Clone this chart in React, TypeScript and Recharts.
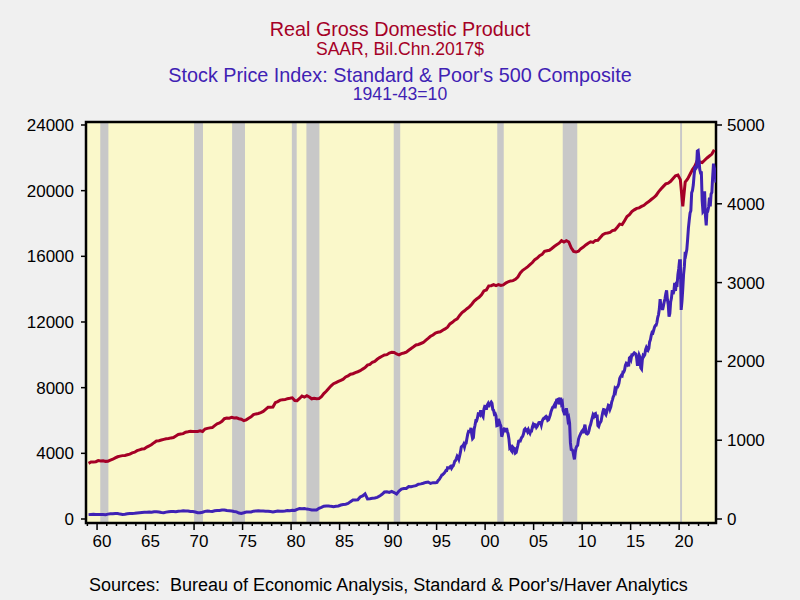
import { LineChart, Line, XAxis, YAxis, ReferenceArea } from "recharts";

document.body.style.margin = "0";

// Real GDP, quarterly, SAAR, Bil.Chn.2017$ (1959Q1 - 2023Q3)
const gdpStartYear = 1959;
const gdp = [
  3390, 3470, 3470, 3490, // 1959
  3560, 3540, 3550, 3510, // 1960
  3520, 3580, 3640, 3720, // 1961
  3790, 3830, 3860, 3870, // 1962
  3910, 3950, 4030, 4070, // 1963
  4160, 4210, 4260, 4280, // 1964
  4380, 4450, 4540, 4650, // 1965
  4750, 4770, 4810, 4850, // 1966
  4890, 4900, 4940, 4960, // 1967
  5060, 5150, 5180, 5200, // 1968
  5290, 5310, 5340, 5330, // 1969
  5330, 5330, 5370, 5330, // 1970
  5480, 5520, 5550, 5570, // 1971
  5690, 5800, 5850, 5950, // 1972
  6110, 6150, 6140, 6190, // 1973
  6150, 6160, 6110, 6080, // 1974
  5990, 6040, 6140, 6220, // 1975
  6360, 6400, 6430, 6480, // 1976
  6550, 6680, 6800, 6800, // 1977
  6820, 7080, 7150, 7240, // 1978
  7260, 7270, 7330, 7350, // 1979
  7380, 7220, 7210, 7340, // 1980
  7490, 7430, 7510, 7430, // 1981
  7320, 7350, 7320, 7330, // 1982
  7450, 7640, 7780, 7950, // 1983
  8110, 8240, 8310, 8380, // 1984
  8450, 8520, 8650, 8720, // 1985
  8820, 8850, 8920, 8970, // 1986
  9030, 9130, 9220, 9370, // 1987
  9420, 9550, 9600, 9730, // 1988
  9830, 9910, 9990, 10010, // 1989
  10110, 10150, 10140, 10050, // 1990
  10000, 10070, 10110, 10160, // 1991
  10280, 10390, 10490, 10600, // 1992
  10630, 10690, 10750, 10880, // 1993
  11000, 11130, 11210, 11330, // 1994
  11370, 11400, 11500, 11580, // 1995
  11680, 11880, 11980, 12110, // 1996
  12190, 12400, 12570, 12680, // 1997
  12810, 12920, 13080, 13270, // 1998
  13400, 13500, 13660, 13890, // 1999
  13950, 14200, 14210, 14280, // 2000
  14220, 14280, 14230, 14260, // 2001
  14370, 14450, 14500, 14520, // 2002
  14600, 14740, 14990, 15150, // 2003
  15250, 15360, 15490, 15620, // 2004
  15800, 15890, 16040, 16120, // 2005
  16300, 16340, 16370, 16480, // 2006
  16600, 16700, 16800, 16950, // 2007
  16870, 16950, 16870, 16520, // 2008
  16300, 16260, 16310, 16470, // 2009
  16560, 16690, 16800, 16880, // 2010
  16850, 16970, 16980, 17150, // 2011
  17320, 17400, 17420, 17460, // 2012
  17570, 17600, 17770, 17960, // 2013
  17930, 18170, 18420, 18530, // 2014
  18720, 18830, 18920, 18950, // 2015
  19040, 19110, 19240, 19330, // 2016
  19460, 19570, 19710, 19930, // 2017
  20100, 20260, 20410, 20460, // 2018
  20570, 20740, 20910, 20950, // 2019
  20670, 19040, 20520, 20720, // 2020
  21000, 21290, 21500, 21850, // 2021
  21740, 21710, 21850, 21990, // 2022
  22110, 22230, 22490, // 2023
];

// S&P 500, 1941-43=10: quarterly averages 1959-1994
const spQuarterlyStartYear = 1959;
const spQuarterly = [
  55.5, 57.5, 58.7, 57.8, 56.3, 56.1, 55.7, 55.3, 62.0, 66.0, 66.8, 70.3,
  69.9, 62.2, 57.8, 59.6, 65.6, 69.7, 71.0, 73.3, 77.5, 80.3, 82.9, 84.8,
  86.6, 87.4, 86.9, 91.8, 91.6, 88.1, 81.4, 79.8, 87.1, 91.7, 94.4, 94.5,
  91.6, 98.0, 99.9, 105.2, 100.9, 101.7, 94.5, 94.3, 88.7, 79.2, 78.7, 86.2,
  96.7, 101.4, 98.5, 96.4, 105.4, 108.2, 109.2, 114.1, 115.0, 107.4, 105.1, 102.2,
  95.7, 90.6, 75.7, 69.4, 78.8, 89.1, 87.6, 89.1, 99.5, 101.6, 104.3, 102.6,
  101.8, 99.0, 98.1, 93.9, 89.4, 95.9, 101.7, 97.3, 99.3, 101.2, 106.2, 105.3,
  110.3, 108.4, 123.3, 133.1, 131.5, 132.8, 125.7, 122.2, 114.2, 114.1, 113.8, 136.7,
  147.7, 162.7, 165.5, 165.8, 160.4, 155.8, 160.5, 165.2, 177.3, 184.8, 188.3, 197.0,
  220.0, 240.6, 241.2, 243.7, 279.3, 293.3, 319.4, 255.4, 258.1, 263.1, 266.9, 275.0,
  290.7, 313.3, 341.9, 345.4, 336.3, 349.6, 335.4, 317.1, 353.4, 378.7, 385.6, 387.1,
  412.0, 410.2, 417.2, 423.6, 442.4, 445.5, 453.5, 464.2, 469.5, 451.0, 460.9, 460.0,
];

// S&P 500: monthly averages 1995 - Oct 2023
const spMonthlyStartYear = 1995;
const spMonthly = [
  465, 482, 493, 507, 523, 540, 558, 562, 573, 583, 596, 614, // 1995
  614, 649, 647, 647, 661, 668, 644, 662, 674, 701, 735, 743, // 1996
  767, 798, 784, 758, 801, 848, 913, 925, 928, 948, 915, 955, // 1997
  963, 1023, 1077, 1112, 1108, 1109, 1157, 1074, 1020, 1032, 1144, 1190, // 1998
  1248, 1246, 1282, 1334, 1332, 1322, 1381, 1327, 1318, 1300, 1392, 1429, // 1999
  1425, 1388, 1443, 1461, 1419, 1462, 1473, 1485, 1468, 1390, 1379, 1330, // 2000
  1336, 1305, 1185, 1189, 1271, 1238, 1205, 1179, 1044, 1077, 1129, 1144, // 2001
  1140, 1101, 1154, 1112, 1079, 1014, 903, 912, 868, 855, 910, 899, // 2002
  895, 838, 846, 891, 936, 988, 993, 990, 1019, 1039, 1050, 1081, // 2003
  1132, 1144, 1124, 1130, 1107, 1132, 1106, 1088, 1118, 1118, 1169, 1199, // 2004
  1182, 1199, 1195, 1164, 1178, 1202, 1222, 1224, 1226, 1192, 1238, 1262, // 2005
  1278, 1277, 1293, 1302, 1290, 1253, 1260, 1287, 1317, 1363, 1389, 1416, // 2006
  1424, 1445, 1407, 1463, 1511, 1515, 1520, 1455, 1497, 1540, 1463, 1479, // 2007
  1378, 1354, 1317, 1371, 1404, 1341, 1257, 1281, 1217, 969, 883, 878, // 2008
  866, 806, 757, 849, 902, 926, 935, 1010, 1045, 1068, 1088, 1111, // 2009
  1124, 1089, 1152, 1197, 1125, 1083, 1079, 1088, 1122, 1172, 1199, 1242, // 2010
  1282, 1321, 1304, 1332, 1338, 1287, 1325, 1185, 1174, 1207, 1226, 1244, // 2011
  1300, 1352, 1389, 1386, 1341, 1324, 1359, 1404, 1443, 1437, 1394, 1422, // 2012
  1480, 1512, 1551, 1570, 1640, 1619, 1669, 1671, 1688, 1720, 1783, 1807, // 2013
  1823, 1817, 1864, 1864, 1890, 1948, 1973, 1961, 1993, 1937, 2045, 2055, // 2014
  2029, 2082, 2080, 2095, 2108, 2100, 2095, 2040, 1945, 2024, 2080, 2054, // 2015
  1919, 1904, 2022, 2076, 2066, 2084, 2149, 2177, 2158, 2143, 2165, 2247, // 2016
  2275, 2330, 2366, 2360, 2395, 2434, 2454, 2457, 2493, 2557, 2594, 2664, // 2017
  2790, 2705, 2703, 2654, 2701, 2754, 2794, 2858, 2902, 2785, 2723, 2567, // 2018
  2607, 2755, 2804, 2904, 2855, 2890, 2996, 2897, 2983, 2977, 3104, 3177, // 2019
  3278, 3278, 2653, 2762, 2920, 3105, 3208, 3391, 3366, 3418, 3549, 3695, // 2020
  3793, 3883, 3911, 4141, 4168, 4238, 4364, 4454, 4446, 4461, 4668, 4675, // 2021
  4574, 4436, 4391, 4392, 4040, 3899, 3912, 4158, 3851, 3726, 3917, 3913, // 2022
  3960, 4079, 3968, 4122, 4146, 4346, 4509, 4458, 4409, 4270, // 2023
];

// NBER recessions (start, end) in decimal years
const recessions = [
  [1960.33, 1961.17],
  [1970.0, 1970.92],
  [1973.92, 1975.25],
  [1980.08, 1980.58],
  [1981.58, 1982.92],
  [1990.58, 1991.25],
  [2001.25, 2001.92],
  [2008.0, 2009.5],
  [2020.1, 2020.3],
];

const xDomain = [1958.86, 2023.8];
const leftDomain = [-244, 24182];
const rightDomain = [-50.8, 5038];
const leftTicks = [0, 4000, 8000, 12000, 16000, 20000, 24000];
const rightTicks = [0, 1000, 2000, 3000, 4000, 5000];
const labelYears = [1960, 1965, 1970, 1975, 1980, 1985, 1990, 1995, 2000, 2005, 2010, 2015, 2020];

const RED = "#A50026";
const BLUE = "#3F22B4";
const FONT = "'Liberation Sans', Arial, sans-serif";

const gdpData = gdp.map((v, i) => ({
  t: gdpStartYear + Math.floor(i / 4) + ((i % 4) + 0.5) / 4,
  v,
}));
const spData = [
  ...spQuarterly.map((v, i) => ({
    t: spQuarterlyStartYear + Math.floor(i / 4) + ((i % 4) + 0.5) / 4,
    v,
  })),
  ...spMonthly.map((v, i) => ({
    t: spMonthlyStartYear + Math.floor(i / 12) + ((i % 12) + 0.5) / 12,
    v,
  })),
];

// year tick marks at each year boundary, labels centred in the year
const yearMarks = Array.from({ length: 65 }, (_, i) => 1959 + i);
const xTicks = [...yearMarks, ...labelYears.map((y) => y + 0.5)].sort((a, b) => a - b);

function YearTick(props: any) {
  const { x, y, payload } = props;
  const v = payload.value;
  if (Number.isInteger(v)) {
    const len = v % 5 === 0 ? 7 : 3;
    return <line x1={x} x2={x} y1={y} y2={y + len} stroke="#000" strokeWidth={1.5} />;
  }
  return (
    <text x={x} y={y + 24} textAnchor="middle" fontSize={17} fill="#000">
      {String(Math.floor(v) % 100).padStart(2, "0")}
    </text>
  );
}

export default function App() {
  return (
    <div style={{ position: "relative", width: 800, height: 600, background: "#F0F0F0", fontFamily: FONT }}>
      <LineChart width={800} height={600} margin={{ top: 122, right: 0, bottom: 37, left: 0 }}>
        <XAxis
          xAxisId="main"
          type="number"
          dataKey="t"
          domain={xDomain}
          allowDataOverflow
          ticks={xTicks}
          interval={0}
          tick={<YearTick />}
          tickSize={0}
          tickMargin={0}
          axisLine={false}
          tickLine={false}
          height={40}
        />
        <YAxis
          yAxisId="left"
          domain={leftDomain}
          allowDataOverflow
          ticks={leftTicks}
          interval={0}
          tick={{ fontSize: 17, fill: "#000" }}
          tickLine={{ stroke: "#000", strokeWidth: 1.5 }}
          tickSize={5}
          tickMargin={7}
          axisLine={false}
          width={86}
        />
        <YAxis
          yAxisId="right"
          orientation="right"
          domain={rightDomain}
          allowDataOverflow
          ticks={rightTicks}
          interval={0}
          tick={{ fontSize: 17, fill: "#000", textAnchor: "start" }}
          tickLine={{ stroke: "#000", strokeWidth: 1.5 }}
          tickSize={6}
          tickMargin={5}
          axisLine={false}
          width={84}
        />
        <ReferenceArea
          xAxisId="main"
          yAxisId="left"
          x1={xDomain[0]}
          x2={xDomain[1]}
          y1={leftDomain[0]}
          y2={leftDomain[1]}
          fill="#FAF8CA"
          fillOpacity={1}
          stroke="none"
        />
        {recessions.map(([a, b]) => (
          <ReferenceArea
            key={a}
            xAxisId="main"
            yAxisId="left"
            x1={a}
            x2={b}
            y1={leftDomain[0]}
            y2={leftDomain[1]}
            fill="#C8C8C8"
            fillOpacity={1}
            stroke="none"
          />
        ))}
        <Line
          xAxisId="main"
          yAxisId="left"
          data={gdpData}
          dataKey="v"
          stroke={RED}
          strokeWidth={3}
          dot={false}
          isAnimationActive={false}
        />
        <Line
          xAxisId="main"
          yAxisId="right"
          data={spData}
          dataKey="v"
          stroke={BLUE}
          strokeWidth={3}
          dot={false}
          isAnimationActive={false}
        />
        <ReferenceArea
          xAxisId="main"
          yAxisId="left"
          x1={xDomain[0]}
          x2={xDomain[1]}
          y1={leftDomain[0]}
          y2={leftDomain[1]}
          fill="none"
          stroke="#000"
          strokeWidth={2.5}
          ifOverflow="visible"
        />
      </LineChart>
      <svg width={800} height={600} style={{ position: "absolute", left: 0, top: 0, pointerEvents: "none" }}>
        <text x={400} y={36} textAnchor="middle" fontSize={19.8} fill={RED}>
          Real Gross Domestic Product
        </text>
        <text x={400} y={55} textAnchor="middle" fontSize={17.6} fill={RED}>
          SAAR, Bil.Chn.2017$
        </text>
        <text x={400} y={81.5} textAnchor="middle" fontSize={19.8} fill={BLUE}>
          Stock Price Index: Standard &amp; Poor's 500 Composite
        </text>
        <text x={400} y={100} textAnchor="middle" fontSize={17.6} fill={BLUE}>
          1941-43=10
        </text>
        <text x={89} y={591} fontSize={18} fill="#000" xmlSpace="preserve">
          {"Sources:  Bureau of Economic Analysis, Standard & Poor's/Haver Analytics"}
        </text>
      </svg>
    </div>
  );
}
